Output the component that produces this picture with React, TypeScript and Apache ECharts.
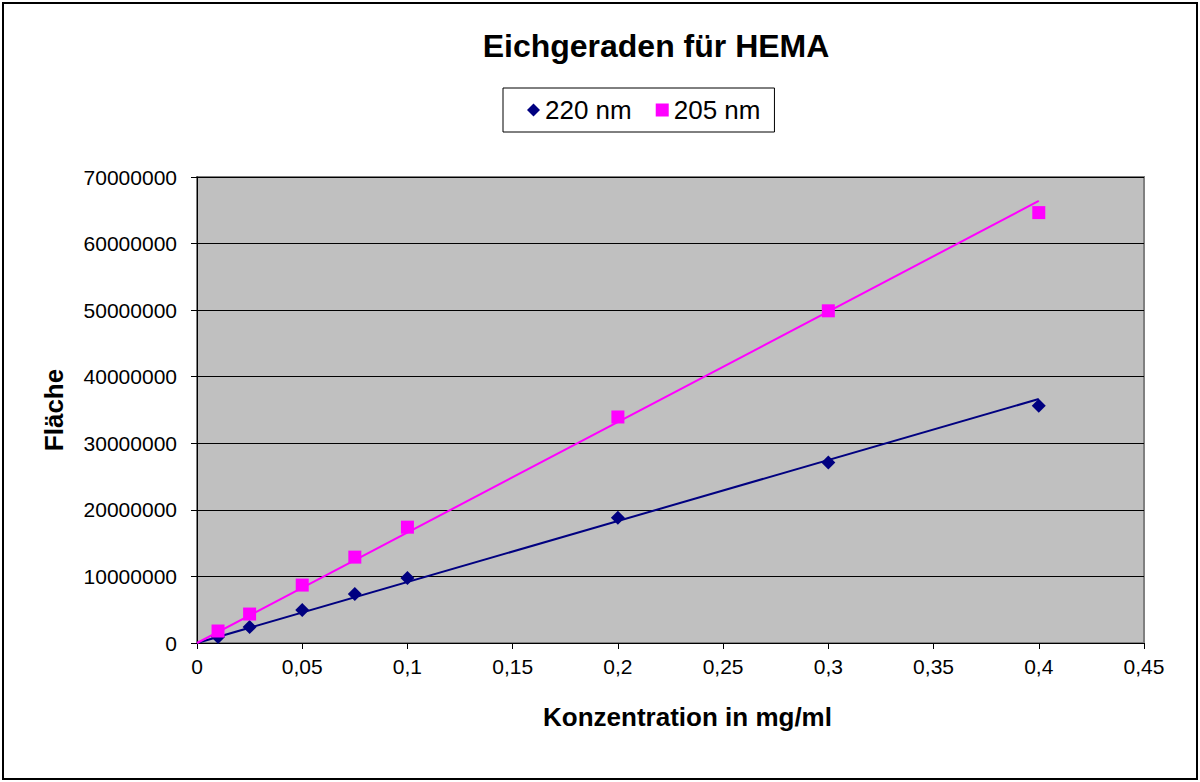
import React, { useEffect, useRef } from "react";
import * as echarts from "echarts";

const conc = [0.01, 0.025, 0.05, 0.075, 0.1, 0.2, 0.3, 0.4];
const area220 = [900000, 2400000, 4950000, 7350000, 9750000, 18800000, 27100000, 35650000];
const area205 = [1800000, 4350000, 8700000, 12900000, 17400000, 33950000, 49900000, 64650000];
const trendX = [0, 0.4];
const trend220 = [0, 36650000];
const trend205 = [0, 66400000];
const seriesNames = ["220 nm", "205 nm"];
const titleText = "Eichgeraden für HEMA";
const xTitle = "Konzentration in mg/ml";
const yTitle = "Fläche";

const FONT = "Liberation Sans, Arial, sans-serif";

export default function App() {
  const ref = useRef<HTMLDivElement>(null);
  useEffect(() => {
    if (!ref.current) return;
    const chart = echarts.init(ref.current, null, { renderer: "svg" });
    const pts = (xs: number[], ys: number[]) => xs.map((x, i) => [x, ys[i]]);
    chart.setOption({
      animation: false,
      backgroundColor: "#ffffff",
      textStyle: { fontFamily: FONT, color: "#000" },
      title: {
        text: titleText,
        left: 651,
        textAlign: "center",
        top: 25,
        textStyle: { fontFamily: FONT, fontSize: 32, fontWeight: "bold", color: "#000" },
      },
      legend: {
        data: [
          { name: seriesNames[0], icon: "diamond" },
          { name: seriesNames[1], icon: "rect" },
        ],
        left: 503,
        top: 88,
        borderColor: "#000",
        borderWidth: 1,
        borderRadius: 0,
        backgroundColor: "#fff",
        padding: [9, 14, 9, 24],
        itemWidth: 13,
        itemHeight: 13,
        itemGap: 24,
        textStyle: { fontFamily: FONT, fontSize: 26, color: "#000" },
      },
      grid: { left: 197, top: 177, right: 56, bottom: 139, show: true, backgroundColor: "#C0C0C0", borderColor: "#808080", borderWidth: 2 },
      xAxis: {
        type: "value",
        min: 0,
        max: 0.45,
        interval: 0.05,
        name: xTitle,
        nameLocation: "middle",
        nameGap: 61,
        nameTextStyle: { fontFamily: FONT, fontSize: 26, fontWeight: "bold", color: "#000", padding: [0, 0, 0, 34] },
        axisLine: { show: true, onZero: false, lineStyle: { color: "#000", width: 1 } },
        axisTick: { show: true, inside: false, length: 6, lineStyle: { color: "#000" } },
        axisLabel: {
          margin: 13,
          fontFamily: FONT,
          fontSize: 21,
          color: "#000",
          formatter: (v: number) => String(+v.toFixed(2)).replace(".", ","),
        },
        splitLine: { show: false },
      },
      yAxis: {
        type: "value",
        min: 0,
        max: 70000000,
        interval: 10000000,
        name: yTitle,
        nameLocation: "middle",
        nameGap: 130,
        nameRotate: 90,
        nameTextStyle: { fontFamily: FONT, fontSize: 26, fontWeight: "bold", color: "#000" },
        axisLine: { show: true, lineStyle: { color: "#000", width: 1 } },
        axisTick: { show: true, inside: false, length: 6, lineStyle: { color: "#000" } },
        axisLabel: { margin: 20, fontFamily: FONT, fontSize: 21, color: "#000", formatter: (v: number) => String(v) },
        splitLine: { show: true, lineStyle: { color: "#000", width: 1 } },
      },
      graphic: [
        {
          type: "rect",
          shape: { x: 3, y: 3, width: 1194, height: 776 },
          style: { fill: "none", stroke: "#000", lineWidth: 2 },
          silent: true,
          z: 100,
        },
      ],
      series: [
        {
          name: seriesNames[0] + " trend",
          type: "line",
          data: pts(trendX, trend220),
          showSymbol: false,
          symbol: "none",
          lineStyle: { color: "#000080", width: 2 },
          z: 3,
        },
        {
          name: seriesNames[1] + " trend",
          type: "line",
          data: pts(trendX, trend205),
          showSymbol: false,
          symbol: "none",
          lineStyle: { color: "#FF00FF", width: 2 },
          z: 3,
        },
        {
          name: seriesNames[0],
          type: "scatter",
          data: pts(conc, area220),
          symbol: "diamond",
          symbolSize: 14,
          itemStyle: { color: "#000080", opacity: 1 },
          z: 4,
        },
        {
          name: seriesNames[1],
          type: "scatter",
          data: pts(conc, area205),
          symbol: "rect",
          symbolSize: 13,
          itemStyle: { color: "#FF00FF", opacity: 1 },
          z: 4,
        },
      ],
    });
    return () => chart.dispose();
  }, []);
  return <div ref={ref} style={{ position: "fixed", left: 0, top: 0, width: 1200, height: 782 }} />;
}
